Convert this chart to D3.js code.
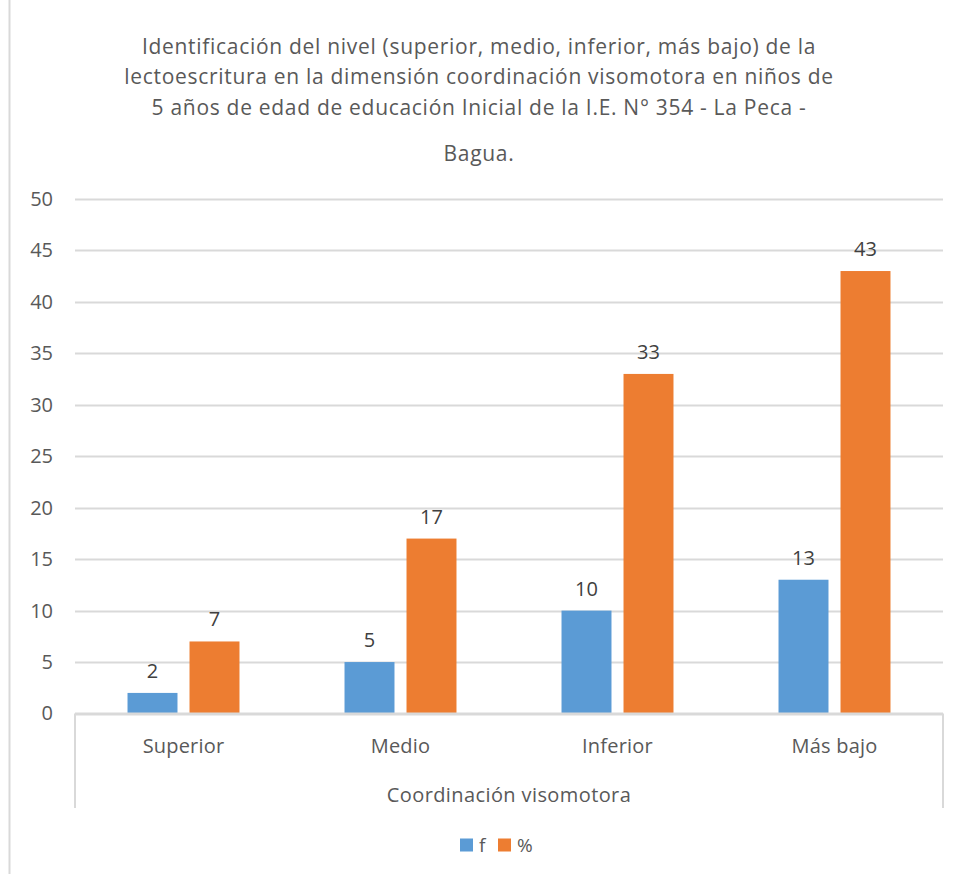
<!DOCTYPE html>
<html lang="es">
<head>
  <meta charset="UTF-8">
  <title>Coordinación visomotora</title>
  <script src="https://d3js.org/d3.v7.min.js"></script>
  <style>
    body {
      margin: 0;
      background: #fff;
    }

    svg {
      display: block;
      font-family: "Open Sans", sans-serif;
    }
  </style>
</head>
<body>
  <svg width="959" height="874"></svg>

  <script>
    const categories = ["Superior", "Medio", "Inferior", "Más bajo"];
    const seriesNames = ["f", "%"];
    const fValues = [2, 5, 10, 13];
    const pctValues = [7, 17, 33, 43];
    const yTicks = [0, 5, 10, 15, 20, 25, 30, 35, 40, 45, 50];
    const titleLines = [
      "Identificación del nivel (superior, medio, inferior, más bajo) de la",
      "lectoescritura en la dimensión coordinación visomotora en niños de",
      "5 años de edad de educación Inicial de la I.E. N° 354 - La Peca -",
      "Bagua."
    ];
    const axisTitle = "Coordinación visomotora";

    const colors = { "f": "#5B9BD5", "%": "#ED7D31" };
    const textColor = "#595959";
    const gridColor = "#D9D9D9";

    const plot = { left: 75, right: 943, top: 199, bottom: 713.5 };

    const svg = d3.select("svg");

    // chart frame edge on the left
    svg.append("line")
      .attr("x1", 9.5).attr("x2", 9.5)
      .attr("y1", 0).attr("y2", 874)
      .attr("stroke", gridColor)
      .attr("stroke-width", 2);

    // title
    const title = svg.append("g").attr("fill", textColor)
      .attr("font-size", 21)
      .attr("letter-spacing", 0.7)
      .attr("text-anchor", "middle");
    const titleY = [47, 77, 108, 154];
    titleLines.forEach((t, i) => {
      title.append("text")
        .attr("x", 479)
        .attr("y", titleY[i])
        .attr("dy", "0.35em")
        .text(t);
    });

    const y = d3.scaleLinear()
      .domain([0, 50])
      .range([plot.bottom, plot.top]);

    const x0 = d3.scaleBand()
      .domain(categories)
      .range([plot.left, plot.right])
      .paddingInner(0.484)
      .paddingOuter(0.242);

    const x1 = d3.scaleBand()
      .domain(seriesNames)
      .range([0, x0.bandwidth()])
      .paddingInner(0.194);

    // gridlines
    svg.append("g")
      .selectAll("line")
      .data(yTicks)
      .join("line")
      .attr("x1", plot.left)
      .attr("x2", plot.right)
      .attr("y1", d => Math.round(y(d)) + 0.5)
      .attr("y2", d => Math.round(y(d)) + 0.5)
      .attr("stroke", gridColor)
      .attr("stroke-width", 2);

    // y axis labels
    const yAxis = d3.axisLeft(y)
      .tickValues(yTicks)
      .tickSize(0)
      .tickPadding(0);

    svg.append("g")
      .attr("transform", "translate(53,0)")
      .call(yAxis)
      .call(g => g.select(".domain").remove())
      .call(g => g.selectAll("text")
        .attr("fill", textColor)
        .attr("font-size", 20)
        .attr("font-family", "'Open Sans', sans-serif"));

    // bars
    const rows = categories.map((c, i) => ({
      category: c,
      values: [
        { key: "f", value: fValues[i] },
        { key: "%", value: pctValues[i] }
      ]
    }));

    const groups = svg.append("g")
      .selectAll("g")
      .data(rows)
      .join("g")
      .attr("transform", d => `translate(${x0(d.category)},0)`);

    groups.selectAll("rect")
      .data(d => d.values)
      .join("rect")
      .attr("x", d => x1(d.key))
      .attr("y", d => y(d.value))
      .attr("width", x1.bandwidth())
      .attr("height", d => y(0) - y(d.value))
      .attr("fill", d => colors[d.key]);

    groups.selectAll("text")
      .data(d => d.values)
      .join("text")
      .attr("x", d => x1(d.key) + x1.bandwidth() / 2)
      .attr("y", d => y(d.value) - 22)
      .attr("dy", "0.35em")
      .attr("text-anchor", "middle")
      .attr("font-size", 20)
      .attr("fill", "#404040")
      .text(d => d.value);

    // category axis with outer separators
    const catAxis = svg.append("g").attr("stroke", gridColor).attr("stroke-width", 2);
    catAxis.append("line")
      .attr("x1", plot.left).attr("x2", plot.right)
      .attr("y1", plot.bottom).attr("y2", plot.bottom);
    [plot.left, plot.right].forEach(xx => {
      catAxis.append("line")
        .attr("x1", xx).attr("x2", xx)
        .attr("y1", plot.bottom).attr("y2", 808);
    });

    svg.append("g")
      .selectAll("text")
      .data(categories)
      .join("text")
      .attr("x", d => x0(d) + x0.bandwidth() / 2)
      .attr("y", 746)
      .attr("dy", "0.35em")
      .attr("text-anchor", "middle")
      .attr("font-size", 20)
      .attr("letter-spacing", 0.2)
      .attr("fill", textColor)
      .text(d => d);

    svg.append("text")
      .attr("x", (plot.left + plot.right) / 2)
      .attr("y", 795)
      .attr("dy", "0.35em")
      .attr("text-anchor", "middle")
      .attr("font-size", 20)
      .attr("letter-spacing", 0.4)
      .attr("fill", textColor)
      .text(axisTitle);

    // legend
    const legend = svg.append("g").attr("transform", "translate(460,845)");
    const legendX = [0, 38];
    seriesNames.forEach((s, i) => {
      const item = legend.append("g").attr("transform", `translate(${legendX[i]},0)`);
      item.append("rect")
        .attr("x", 0).attr("y", -6.5)
        .attr("width", 13).attr("height", 13)
        .attr("fill", colors[s]);
      item.append("text")
        .attr("x", 19)
        .attr("y", 0)
        .attr("dy", "0.35em")
        .attr("font-size", 19)
        .attr("fill", textColor)
        .text(s);
    });
  </script>
</body>
</html>
